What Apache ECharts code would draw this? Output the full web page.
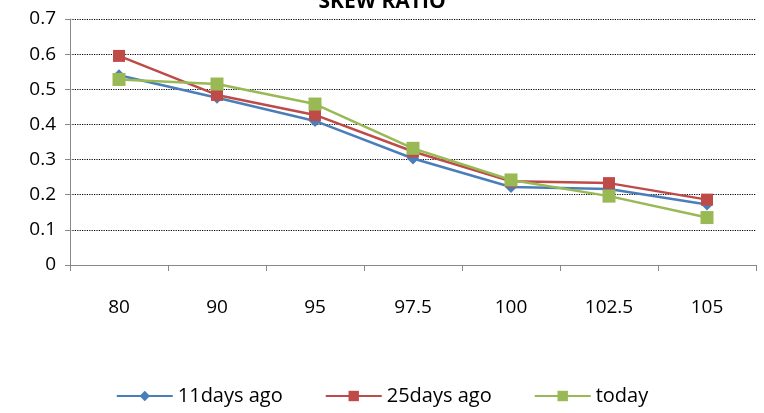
<!DOCTYPE html>
<html>
<head>
<meta charset="UTF-8">
<style>body{margin:0;background:#fff;} #main{width:764px;height:413px;}</style>
<script src="https://cdn.jsdelivr.net/npm/echarts@6/dist/echarts.min.js"></script>
</head>
<body>
<div id="main"></div>
<script>
var categories = ['80', '90', '95', '97.5', '100', '102.5', '105'];
var days11 = [0.54, 0.476, 0.41, 0.303, 0.222, 0.216, 0.172];
var days25 = [0.595, 0.484, 0.427, 0.323, 0.238, 0.233, 0.186];
var today = [0.528, 0.515, 0.458, 0.332, 0.242, 0.196, 0.135];

var chart = echarts.init(document.getElementById('main'));
var font = 'Open Sans';
function line(name, data, color, symbol, size) {
    return {
        name: name, type: 'line', data: data, symbol: symbol, symbolSize: size,
        lineStyle: {color: color, width: 2.5}, itemStyle: {color: color}
    };
}
chart.setOption({
    animation: false,
    title: {text: 'SKEW RATIO', left: 'center', top: -13,
        textStyle: {fontFamily: font, fontSize: 21, fontWeight: 'bold', color: '#000'}},
    grid: {left: 70, right: 8, top: 19, bottom: 148},
    legend: {bottom: 2, itemGap: 42, itemWidth: 56, itemHeight: 13,
        textStyle: {fontFamily: font, fontSize: 20, color: '#000'},
        data: ['11days ago', '25days ago', 'today']},
    xAxis: {type: 'category', data: categories, boundaryGap: true,
        axisLine: {lineStyle: {color: '#888'}},
        axisTick: {show: true, length: 6, lineStyle: {color: '#888'}},
        axisLabel: {fontFamily: font, fontSize: 19, color: '#000', margin: 33}},
    yAxis: {type: 'value', min: 0, max: 0.7, interval: 0.1,
        axisLine: {show: true, lineStyle: {color: '#888'}},
        axisTick: {show: true, length: 5, lineStyle: {color: '#888'}},
        axisLabel: {fontFamily: font, fontSize: 19, color: '#000', margin: 14,
            formatter: function (v) { return +v.toFixed(1); }},
        splitLine: {lineStyle: {color: '#000', type: 'dotted', width: 1.2}}},
    series: [
        line('11days ago', days11, '#4a7ebb', 'diamond', 12),
        line('25days ago', days25, '#be4b48', 'rect', 12),
        line('today', today, '#98b954', 'rect', 13)
    ]
});
</script>
</body>
</html>
